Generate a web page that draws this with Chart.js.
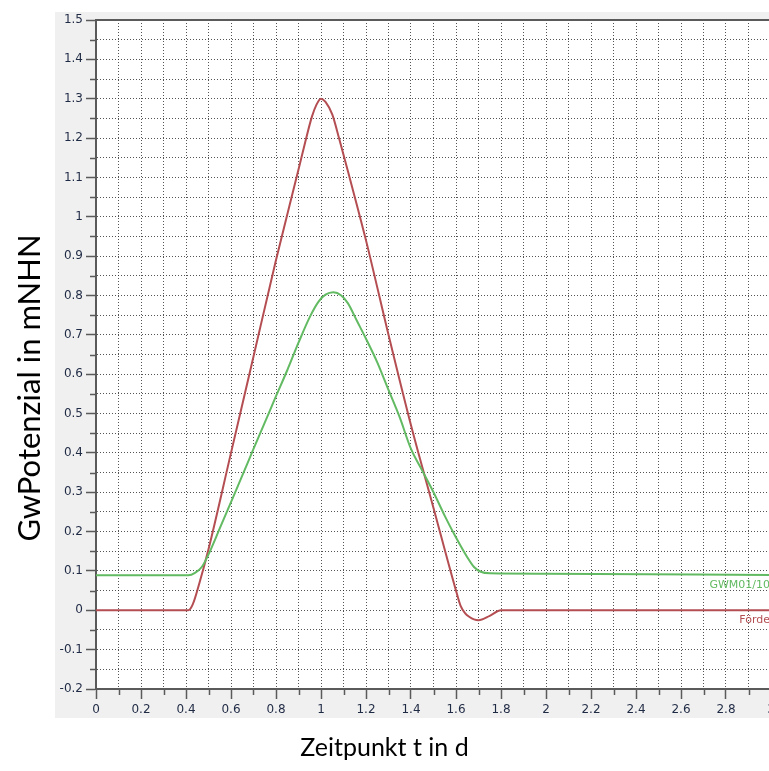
<!DOCTYPE html>
<html>
<head>
<meta charset="utf-8">
<script src="https://cdn.jsdelivr.net/npm/chart.js@4/dist/chart.umd.min.js"></script>
<style>
  html, body { margin: 0; padding: 0; overflow: hidden; background: #fff; }
  #wrap { width: 791px; height: 771px; }
</style>
</head>
<body>
<div id="wrap"><canvas id="gwChart" width="791" height="771"></canvas></div>
<script>
// Achsen
const xRange = [0, 3];
const yRange = [-0.2, 1.5];
const xStep = 0.1;
const yStep = 0.05;

// Förde (rot): Zeitpunkt t in d / GwPotenzial in mNHN
const foerdeT = [0, 0.41, 0.43, 0.46, 0.5, 0.6, 0.7, 0.8, 0.9, 0.93, 0.96, 0.98, 1.0,
  1.02, 1.05, 1.08, 1.12, 1.2, 1.3, 1.4, 1.5, 1.6, 1.62, 1.64, 1.66, 1.68, 1.7, 1.75, 1.8, 3.0];
const foerdeV = [0, 0, 0.015, 0.07, 0.155, 0.4, 0.645, 0.89, 1.12, 1.19, 1.255, 1.285, 1.3,
  1.292, 1.26, 1.2, 1.115, 0.94, 0.7, 0.47, 0.26, 0.05, 0.012, -0.007, -0.017, -0.023, -0.025, -0.014, 0, 0];

// GWM01/10 (grün)
const gwmT = [0, 0.41, 0.44, 0.47, 0.5, 0.55, 0.6, 0.65, 0.7, 0.75, 0.8, 0.85, 0.9, 0.95, 0.99, 1.02, 1.055, 1.09, 1.12, 1.16,
  1.2, 1.25, 1.3, 1.35, 1.4, 1.45, 1.5, 1.55, 1.6, 1.65, 1.68, 1.71, 1.75, 2.0, 3.0];
const gwmV = [0.089, 0.089, 0.095, 0.11, 0.142, 0.208, 0.275, 0.342, 0.41, 0.477, 0.544, 0.61, 0.68, 0.745, 0.785, 0.802, 0.808, 0.8, 0.78, 0.735,
  0.69, 0.63, 0.56, 0.49, 0.41, 0.355, 0.3, 0.24, 0.185, 0.135, 0.11, 0.098, 0.094, 0.093, 0.09];

const seriesNames = ['GWM01/10', 'Förde'];
const seriesColors = ['rgb(98,186,98)', 'rgb(180,78,82)'];
const xTitle = 'Zeitpunkt t in d';
const yTitle = 'GwPotenzial in mNHN';

const W = 769, H = 771;
const fmt = v => String(Number(v.toFixed(2)));

// grauer Rahmen, Titel, Beschriftung an den Linien, kurze Nebenstriche
const frame = {
  id: 'frame',
  beforeDraw(chart) {
    const { ctx, chartArea: a } = chart;
    ctx.save();
    ctx.fillStyle = '#f0f0f0';
    ctx.fillRect(a.left - 41, a.top - 8, chart.width, a.bottom - a.top + 37);
    ctx.fillStyle = '#fff';
    ctx.fillRect(a.left, a.top, a.right - a.left, a.bottom - a.top);
    ctx.restore();
  },
  afterDraw(chart) {
    const { ctx, chartArea: a, scales } = chart;
    const xs = scales.x, ys = scales.y;
    ctx.save();
    // oberer Rand
    ctx.strokeStyle = '#5a5a5a';
    ctx.lineWidth = 2;
    ctx.beginPath();
    ctx.moveTo(a.left, a.top);
    ctx.lineTo(a.right, a.top);
    ctx.stroke();
    // Nebenstriche
    ctx.lineWidth = 1.5;
    ys.ticks.forEach((t, i) => {
      if (i % 2 === 0) return;
      const y = Math.round(ys.getPixelForValue(t.value)) + 0.5;
      ctx.beginPath(); ctx.moveTo(a.left - 6, y); ctx.lineTo(a.left, y); ctx.stroke();
    });
    xs.ticks.forEach((t, i) => {
      if (i % 2 === 0) return;
      const x = Math.round(xs.getPixelForValue(t.value)) + 0.5;
      ctx.beginPath(); ctx.moveTo(x, a.bottom); ctx.lineTo(x, a.bottom + 6); ctx.stroke();
    });
    // Linienbeschriftung
    ctx.font = '11px "DejaVu Sans"';
    ctx.textAlign = 'right';
    ctx.textBaseline = 'middle';
    chart.data.datasets.forEach((ds, i) => {
      const last = ds.data[ds.data.length - 1];
      ctx.fillStyle = seriesColors[i];
      ctx.fillText(ds.label, W + 1, ys.getPixelForValue(last.y) + 10);
    });
    // Achsentitel
    ctx.fillStyle = '#000';
    ctx.textAlign = 'center';
    ctx.font = '25px Lato';
    ctx.fillText(xTitle, W / 2, 748);
    ctx.font = '31px Lato';
    ctx.translate(30, 388);
    ctx.rotate(-Math.PI / 2);
    ctx.fillText(yTitle, 0, 0);
    ctx.restore();
  }
};

const gridOpts = {
  color: 'rgba(40,40,40,0.8)',
  lineWidth: 1,
  tickBorderDash: [1, 0],
  tickLength: 10,
  tickWidth: 1.5,
  tickColor: ctx => ctx.index % 2 ? 'rgba(0,0,0,0)' : '#5a5a5a'
};
const borderOpts = { color: '#5a5a5a', width: 2, dash: [1, 2] };
const tickFont = { family: 'DejaVu Sans', size: 12 };

new Chart(document.getElementById('gwChart').getContext('2d'), {
  type: 'line',
  data: {
    datasets: [{
      label: seriesNames[0],
      data: gwmT.map((t, i) => ({ x: t, y: gwmV[i] })),
      borderColor: seriesColors[0],
      borderWidth: 2,
      pointRadius: 0,
      cubicInterpolationMode: 'monotone'
    }, {
      label: seriesNames[1],
      data: foerdeT.map((t, i) => ({ x: t, y: foerdeV[i] })),
      borderColor: seriesColors[1],
      borderWidth: 2,
      pointRadius: 0,
      cubicInterpolationMode: 'monotone'
    }]
  },
  options: {
    responsive: false,
    animation: false,
    layout: { padding: { left: 55, top: 20, right: 20, bottom: 53 } },
    plugins: { legend: { display: false }, tooltip: { enabled: false } },
    scales: {
      x: {
        type: 'linear',
        min: xRange[0], max: xRange[1],
        afterFit: s => { s.height = 29; },
        grid: gridOpts,
        border: borderOpts,
        ticks: {
          stepSize: xStep, autoSkip: false, maxRotation: 0, padding: 4,
          color: '#1f2a44', font: tickFont,
          callback: (v, i) => i % 2 ? '' : fmt(v)
        }
      },
      y: {
        type: 'linear',
        min: yRange[0], max: yRange[1],
        afterFit: s => { s.width = 41; },
        grid: gridOpts,
        border: borderOpts,
        ticks: {
          stepSize: yStep, autoSkip: false, padding: 3,
          color: '#1f2a44', font: tickFont,
          callback: (v, i) => i % 2 ? '' : fmt(v)
        }
      }
    }
  },
  plugins: [frame]
});
</script>
</body>
</html>
